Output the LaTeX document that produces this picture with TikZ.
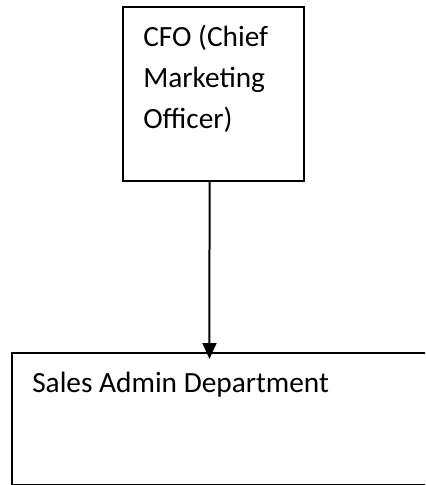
\documentclass[tikz,border=0pt]{standalone}
\usepackage{fontspec}
\setmainfont{Carlito}
\usetikzlibrary{arrows.meta}
\begin{document}
\begin{tikzpicture}[x=0.75pt,y=-0.75pt,
  box/.style={draw=black,line width=1.5pt,rectangle,inner sep=0pt},
  lbl/.style={font=\fontsize{22}{30.75}\selectfont,align=left,inner sep=0pt,anchor=base west},
  conn/.style={line width=1.5pt,-{Triangle[length=12pt,width=10.5pt]},shorten >=-5.25pt}]
\useasboundingbox (0,0) rectangle (425,485);
\clip (0,0) rectangle (425,485);
\node[box,minimum width=136.1pt,minimum height=130.5pt] (cfo) at (213.25,94) {};
\node[box,minimum width=321pt,minimum height=99pt] (sales) at (226,419) {};
\node[lbl] (cfotext) at (143,128) {CFO (Chief\\Marketing\\Officer)};
\node[lbl] (salestext) at (32,392) {Sales Admin Department};
\draw[conn] ([xshift=-2.8pt]cfo.south) -- ([xshift=-12.4pt]sales.north);
\end{tikzpicture}
\end{document}
